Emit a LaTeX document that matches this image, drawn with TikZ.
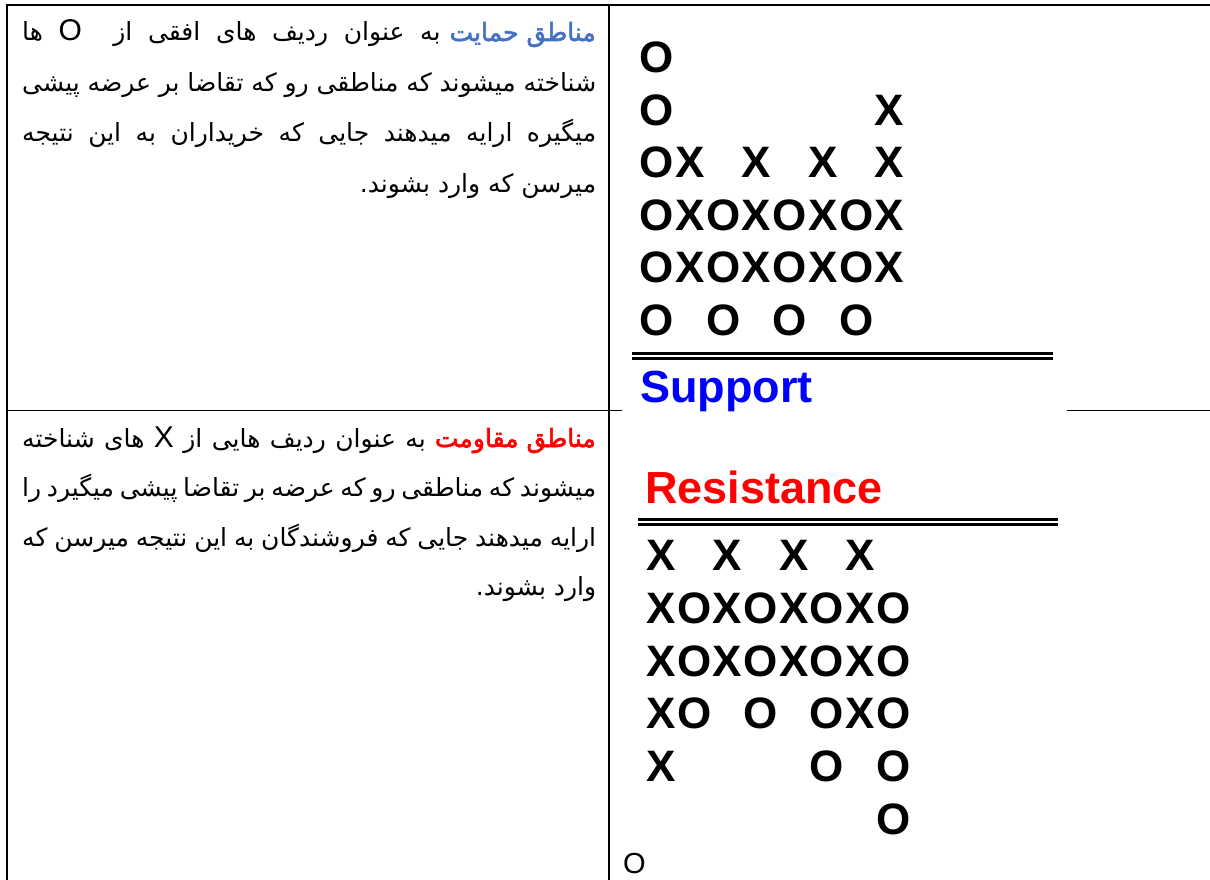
\documentclass[tikz,border=0pt]{standalone}
\usepackage{fontspec}
\setmainfont{Liberation Sans}
\newfontfamily\farsi[Script=Arabic, BoldFont=DejaVu Sans, BoldFeatures={FakeBold=2.5}]{DejaVu Sans}
\TeXXeTstate=1
\usetikzlibrary{calc}

\definecolor{zoneblue}{HTML}{4472C4}
\definecolor{pfblue}{HTML}{0000FF}
\definecolor{pfred}{HTML}{FF0000}

\tikzstyle{tablerule} = [line width=1.7pt, black]
\tikzstyle{pfmark} = [inner sep=0pt, anchor=base, font=\bfseries\fontsize{44}{44}\selectfont]
\tikzstyle{pftitle} = [inner sep=0pt, anchor=base west, font=\bfseries\fontsize{45}{45}\selectfont]
\tikzstyle{dline} = [double, line width=3pt, double distance=2.4pt]
\tikzstyle{faline} = [inner sep=0pt, anchor=base west, font=\farsi\fontsize{25}{25}\selectfont]
\tikzstyle{fakey} = [faline, anchor=base east, font=\farsi\bfseries\fontsize{25}{25}\selectfont]

\newcommand{\fawidth}{574pt}
\newcommand{\fajust}[1]{\hbox to \fawidth{\beginR #1\endR}}
\newcommand{\faright}[1]{\hbox to \fawidth{\hfill\beginR #1\endR}}
\newcommand{\latin}[1]{{\rmfamily\fontsize{30}{30}\selectfont #1}}

\begin{document}
\begin{tikzpicture}[x=1pt, y=-1pt]
\useasboundingbox (0,0) rectangle (1210,880);
%-----------------------------------------------
% table rules
\draw [tablerule] (6,5.3) -- (1210,5.3);
\draw [tablerule] (7,4.5) -- (7,880);
\draw [tablerule] (609,4.5) -- (609,880);
\draw [tablerule] (7,410.5) -- (622,410.5);
\draw [tablerule] (1067,410.5) -- (1210,410.5);
%-----------------------------------------------
% support text
\node (sup1key) [fakey, text=zoneblue] at (596,41) {\beginR مناطق حمایت\endR};
\path let \p1 = (sup1key.base west) in
  node (sup1) [faline] at (22,41) {\hbox to \dimexpr\x1-31pt\relax{\beginR به عنوان ردیف های افقی از\ \ \latin{O} ها\endR}};
\node (sup2) [faline] at (22,91.5) {\fajust{شناخته میشوند که مناطقی رو که تقاضا بر عرضه پیشی}};
\node (sup3) [faline] at (22,142) {\fajust{میگیره ارایه میدهند جایی که خریداران به این نتیجه}};
\node (sup4) [faline] at (22,192.5) {\faright{میرسن که وارد بشوند.}};
%-----------------------------------------------
% resistance text
\node (res1key) [fakey, text=pfred] at (596,447) {\beginR مناطق مقاومت\endR};
\path let \p1 = (res1key.base west) in
  node (res1) [faline] at (22,447) {\hbox to \dimexpr\x1-31pt\relax{\beginR به عنوان ردیف هایی از \latin{X} های شناخته\endR}};
\node (res2) [faline] at (22,496.5) {\fajust{میشوند که مناطقی رو که عرضه بر تقاضا پیشی میگیرد را}};
\node (res3) [faline] at (22,546) {\fajust{ارایه میدهند جایی که فروشندگان به این نتیجه میرسن که}};
\node (res4) [faline] at (22,595.5) {\faright{وارد بشوند.}};
%-----------------------------------------------
% support chart
\foreach \r/\cells in {1/{1/O}, 2/{1/O,8/X}, 3/{1/O,2/X,4/X,6/X,8/X},
    4/{1/O,2/X,3/O,4/X,5/O,6/X,7/O,8/X}, 5/{1/O,2/X,3/O,4/X,5/O,6/X,7/O,8/X},
    6/{1/O,3/O,5/O,7/O}}
  \foreach \c/\mk in \cells
    \node (s\r-\c) [pfmark] at ({657+33.2*(\c-1)}, {72.5+52.6*(\r-1)}) {\mk};
\draw [dline] (632,356) -- (1053,356);
\node (support) [pftitle, text=pfblue] at (640,402) {Support};
%-----------------------------------------------
% resistance chart
\node (resistance) [pftitle, text=pfred] at (645,503) {Resistance};
\draw [dline] (638,521.7) -- (1058,521.7);
\foreach \r/\cells in {1/{1/X,3/X,5/X,7/X}, 2/{1/X,2/O,3/X,4/O,5/X,6/O,7/X,8/O},
    3/{1/X,2/O,3/X,4/O,5/X,6/O,7/X,8/O}, 4/{1/X,2/O,4/O,6/O,7/X,8/O},
    5/{1/X,6/O,8/O}, 6/{8/O}}
  \foreach \c/\mk in \cells
    \node (r\r-\c) [pfmark] at ({661+33.2*(\c-1)}, {570.5+52.8*(\r-1)}) {\mk};
\node (tail) [inner sep=0pt, anchor=base west, font=\fontsize{29}{29}\selectfont] at (623,873) {O};
\end{tikzpicture}
\end{document}
